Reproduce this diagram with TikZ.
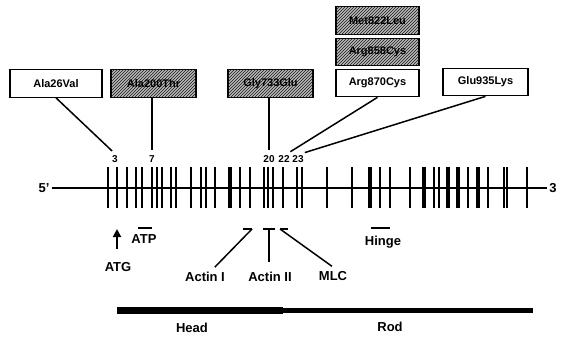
\documentclass[tikz,border=0pt]{standalone}
\usepackage{fontspec}
\setmainfont{Liberation Sans}
\usetikzlibrary{patterns,calc,arrows.meta}
\begin{document}
\begin{tikzpicture}[x=1pt,y=-1pt,
  wbox/.style={draw,line width=1.2pt,fill=white,inner sep=0pt,minimum height=27.5pt,
    font=\fontsize{11}{13}\selectfont\bfseries},
  hbox/.style={wbox,fill=gray!55,postaction={pattern=north east lines,pattern color=black!90}},
  num/.style={inner sep=1.5pt,font=\fontsize{10}{12}\selectfont\bfseries},
  lab/.style={inner sep=2pt,font=\fontsize{13}{15}\selectfont\bfseries},
  conn/.style={line width=1.5pt},
  dom/.style={line width=2.6pt}]
\fill[white] (0,0) rectangle (567,337);
\useasboundingbox (0,0) rectangle (567,337);

% mutation boxes
\node[wbox,minimum width=92pt] (b1) at (56,83.5) {Ala26Val};
\node[hbox,minimum width=85pt] (b2) at (153.5,83.5) {Ala200Thr};
\node[hbox,minimum width=85pt] (b3) at (270.5,83.5) {Gly733Glu};
\node[hbox,minimum width=83pt] (b4) at (377.5,20.5) {Met822Leu};
\node[hbox,minimum width=83pt] (b5) at (377.5,52) {Arg858Cys};
\node[wbox,minimum width=83pt] (b6) at (377.5,83) {Arg870Cys};
\node[wbox,minimum width=85pt] (b7) at (485.5,82) {Glu935Lys};

% exon numbers
\node[num] (n3) at (115,159) {3};
\node[num] (n7) at (152,159) {7};
\node[num] (n20) at (269,159) {20};
\node[num] (n22) at (284,159) {22};
\node[num] (n23) at (298,159) {23};

\draw[conn,shorten >=4pt] (b1.south) -- (n3.north);
\draw[conn,shorten >=4pt] (n7.north |- b2.south) -- (n7.north);
\draw[conn,shorten >=4pt] (n20.north |- b3.south) -- (n20.north);
\draw[conn,shorten >=4pt] (b6.south) -- ($(n22.north)+(3,0)$);
\draw[conn,shorten >=4pt] (b7.south) -- ($(n23.north)+(3,0)$);

% gene line
\node[lab] (p5) at (44,188) {5'};
\node[lab] (p3) at (553,188) {3};
\draw[line width=1.8pt] (p5.east) -- (p3.west);

% exons
\foreach \x/\w in {108/1.6,117/2.9,127/2.2,136/2.2,142/1.6,152/2.4,157/1.6,162/1.9,171/1.6,176/1.9,
  191/2.4,201/1.6,206/1.9,215/2.4,230/3.4,240/1.6,250/1.6,264/2.2,268/2.2,273/1.9,283/2.2,297/2.6,302/2.6,
  327/2.4,352/1.6,370/3.6,380/2.4,390/2.4,410/2.4,424/3.4,434/2.4,439/1.9,448/3.6,458/3.6,468/2.9,478/3.6,488/2.6,
  504/1.6,507/1.6,527/2.9}
  \fill (\x-\w/2,167) rectangle (\x+\w/2,208);

% ATG
\node[lab] (atg) at (118,267) {ATG};
\coordinate (atgbase) at (117,249);
\coordinate (atgtip) at (117,229);
\draw[line width=1.8pt,-{Triangle[width=8pt,length=8pt]}] (atgbase) -- (atgtip);

% ATP
\node[lab] (atp) at (144,239) {ATP};
\draw[dom] (138,228) -- (152,228);

% Actin / MLC
\node[lab] (act1) at (205,277) {Actin I};
\node[lab] (act2) at (270,277) {Actin II};
\node[lab] (mlc) at (333,276) {MLC};
\coordinate (d1) at (252,229);
\coordinate (d2) at (269,229);
\coordinate (d3) at (280,229);
\draw[dom] (243,229) -- (d1);
\draw[dom] (263,229) -- (275,229);
\draw[dom] (d3) -- (288,229);
\draw[conn,shorten >=4pt] (d1) -- ($(act1.north)+(7,0)$);
\draw[conn,shorten >=8pt] (d2) -- (d2 |- act2.north);
\draw[conn,shorten >=5pt] (d3) -- ($(mlc.north)+(3,0)$);

% Hinge
\node[lab] (hinge) at (383,242) {Hinge};
\draw[dom] (371,228) -- (390,228);

% Head / Rod bar
\fill (117,307) rectangle (283,314);
\fill (283,308) rectangle (533,313);
\node[lab] (head) at (192,328) {Head};
\node[lab] (rod) at (390,327) {Rod};
\end{tikzpicture}
\end{document}
